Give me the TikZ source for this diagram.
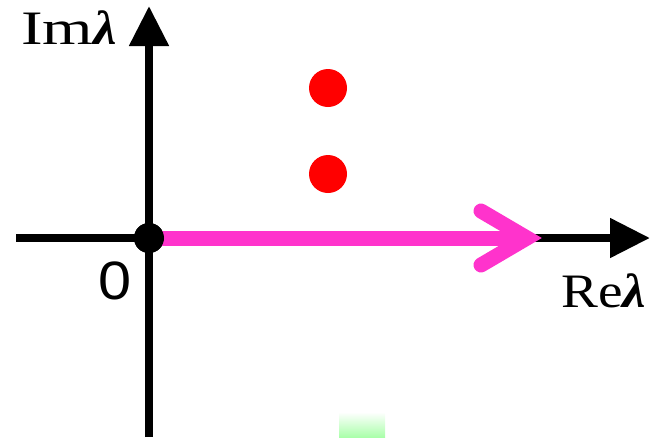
\documentclass[tikz,border=0pt]{standalone}
\usepackage{fontspec}
\usepackage{graphicx}
\setmainfont{Liberation Serif}
\newfontfamily\zerofont{Liberation Sans}
\usetikzlibrary{arrows.meta}
\definecolor{pathmag}{RGB}{255,51,204}
\definecolor{dotred}{RGB}{255,0,0}
\definecolor{lightgreen}{RGB}{170,255,170}
\newcommand{\blam}{\scalebox{1.1}[1]{\textbf{\textit{λ}}}}
\tikzset{
  axis/.style={line width=8pt, -{Triangle[length=40pt,width=38pt]}},
  pole/.style={circle, fill=dotred, inner sep=0pt, minimum size=38pt},
  origin/.style={circle, fill=black, inner sep=0pt, minimum size=30pt},
  lbl/.style={inner sep=0pt, font=\fontsize{48}{50}\selectfont},
  pathline/.style={draw=pathmag, line width=15pt},
}
\begin{document}
\begin{tikzpicture}[x=1pt,y=-1pt]
\useasboundingbox (0,0) rectangle (650,437);
\coordinate (xl) at (16,238);
\coordinate (xr) at (650,238);
\coordinate (yb) at (149,437);
\coordinate (yt) at (149,6);
\draw[axis] (xl) -- (xr);
\draw[axis] (yb) -- (yt);
\coordinate (pend) at (527,238);
\coordinate (armA) at (481,211);
\coordinate (armB) at (481,265);
\node[origin] (o) at (149,238) {};
\draw[pathline] (o.center) -- (pend);
\draw[pathline, line cap=round, line join=miter] (armA) -- (pend) -- (armB);
\node[origin] at (149,238) {};
\node[pole] (p1) at (328,88) {};
\node[pole] (p2) at (328,174) {};
\node[lbl, anchor=base west] (im) at (21,44) {\scalebox{1.35}[1]{Im}\blam};
\node[lbl, anchor=base west] (re) at (561,307) {\scalebox{1.15}[1]{Re}\blam};
\node[inner sep=0pt, anchor=base west, font=\zerofont\fontsize{54}{56}\selectfont] (zero) at (98,299) {\scalebox{1.1}[1]{0}};
\shade[top color=white, bottom color=lightgreen] (339,412) rectangle (385,437);
\end{tikzpicture}
\end{document}
